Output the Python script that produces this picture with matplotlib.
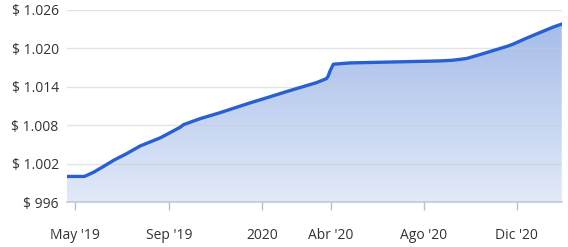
#!/usr/bin/env python3
"""Fund value area chart, May '19 - Jan '21."""
import matplotlib
matplotlib.use("Agg")
import matplotlib.dates as mdates
import matplotlib.pyplot as plt
import numpy as np
import pandas as pd
from matplotlib.colors import LinearSegmentedColormap
from matplotlib.patches import Polygon
from matplotlib.ticker import FuncFormatter

# values
dates = pd.to_datetime([
    "2019-04-20", "2019-05-13", "2019-05-25", "2019-06-07", "2019-06-20",
    "2019-07-08", "2019-07-25", "2019-08-21", "2019-09-16", "2019-09-20",
    "2019-10-12", "2019-11-07", "2019-11-25", "2019-12-17",
    "2020-01-08", "2020-01-29", "2020-02-20", "2020-03-13", "2020-03-26",
    "2020-03-28", "2020-03-31", "2020-04-04", "2020-04-26", "2020-08-22",
    "2020-09-08", "2020-09-26", "2020-10-13", "2020-10-31", "2020-11-18",
    "2020-11-26", "2020-12-14", "2020-12-31", "2021-01-18", "2021-01-29",
])
values = [
    1000.0, 1000.0, 1000.66, 1001.56, 1002.5,
    1003.6, 1004.75, 1006.05, 1007.7, 1008.08,
    1009.02, 1009.95, 1010.65, 1011.5,
    1012.3, 1013.08, 1013.87, 1014.65, 1015.28,
    1015.64, 1016.58, 1017.52, 1017.72, 1018.03,
    1018.14, 1018.41, 1019.0, 1019.65, 1020.3,
    1020.65, 1021.6, 1022.44, 1023.33, 1023.78,
]
tick_dates = pd.to_datetime([
    "2019-05-01", "2019-09-01", "2020-01-01", "2020-04-01", "2020-08-01", "2020-12-01",
])
tick_labels = ["May '19", "Sep '19", "2020", "Abr '20", "Ago '20", "Dic '20"]
y_ticks = [996, 1002, 1008, 1014, 1020, 1026]

LINE = "#2860d2"
TOP_FILL = "#a6bdea"
BOTTOM_FILL = "#e2eaf8"
TEXT = "#333333"

plt.rcParams["font.family"] = ["Open Sans", "DejaVu Sans"]


def money(v, _pos):
    return "$ " + f"{v:,.0f}".replace(",", ".")


def main() -> None:
    fig = plt.figure(figsize=(5.68, 2.47), dpi=100)
    ax = fig.add_axes([0.118, 0.182, 0.871, 0.778])

    x = mdates.date2num(dates)
    y = np.array(values)
    y0, y1 = y_ticks[0], y_ticks[-1]

    # gradient fill clipped to the area under the line
    verts = np.column_stack([np.r_[x[0], x, x[-1]], np.r_[y0, y, y0]])
    poly = Polygon(verts, closed=True, facecolor="none", edgecolor="none")
    ax.add_patch(poly)
    cmap = LinearSegmentedColormap.from_list("fill", [BOTTOM_FILL, TOP_FILL])
    grad = np.linspace(0, 1, 256).reshape(-1, 1)
    im = ax.imshow(grad, cmap=cmap, aspect="auto", origin="lower",
                   extent=[x[0], x[-1], y0, y.max()], zorder=1)
    im.set_clip_path(poly)

    ax.plot(x, y, color=LINE, lw=2.4, zorder=3,
            solid_capstyle="round", solid_joinstyle="round")

    ax.set_xlim(x[0], x[-1])
    ax.set_ylim(y0, y1)
    ax.set_yticks(y_ticks)
    ax.yaxis.set_major_formatter(FuncFormatter(money))
    ax.set_xticks(mdates.date2num(tick_dates))
    ax.set_xticklabels(tick_labels)

    ax.grid(axis="y", color="#c8ccd4", lw=1, alpha=0.55, zorder=2)
    ax.set_axisbelow(False)
    for side in ("top", "right", "left"):
        ax.spines[side].set_visible(False)
    ax.spines["bottom"].set_color("#c4cad3")
    ax.spines["bottom"].set_linewidth(1.2)

    ax.tick_params(axis="y", length=0, pad=6, labelsize=10, labelcolor=TEXT)
    ax.tick_params(axis="x", length=6, width=1, color="#b8c0ca", pad=13,
                   labelsize=10, labelcolor=TEXT)

    fig.savefig("out.png", dpi=100)
    plt.close(fig)


if __name__ == "__main__":
    main()
